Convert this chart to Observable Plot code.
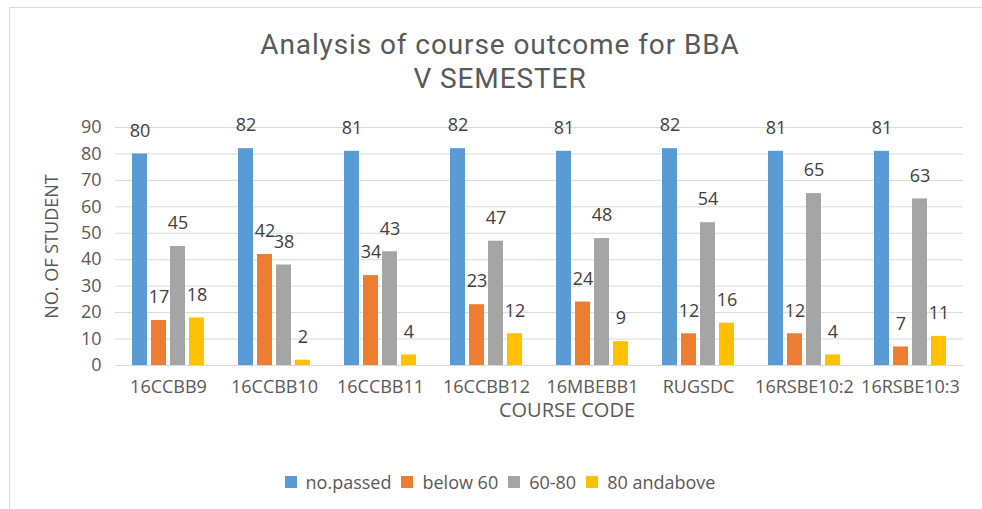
<!DOCTYPE html>
<html>
<head>
<meta charset="utf-8">
<script src="https://cdn.jsdelivr.net/npm/d3@7"></script>
<script src="https://cdn.jsdelivr.net/npm/@observablehq/plot@0.6"></script>
<style>
  html, body { margin: 0; padding: 0; background: #fff; }
  #wrap { position: relative; width: 982px; height: 509px; overflow: hidden; font-family: "Open Sans", sans-serif; color: #595959; }
  #frame { position: absolute; left: 9px; top: 7px; width: 990px; height: 520px; border: 1px solid #d9d9d9; box-sizing: border-box; }
  #title { position: absolute; left: 0; top: 28px; width: 1000px; text-align: center; font-family: Roboto, sans-serif; font-size: 28px; letter-spacing: 0.9px; color: #595959; }
  #title div { line-height: 33.5px; height: 33.5px; white-space: nowrap; }
  #chart { position: absolute; left: 0; top: 100px; }
  #xlabel { position: absolute; left: 367px; width: 400px; top: 397px; text-align: center; font-size: 20px; line-height: 26px; }
  #legend { position: absolute; left: 0; width: 1000px; top: 469px; display: flex; justify-content: center; align-items: center; font-size: 18px; line-height: 26px; }
  .item { display: flex; align-items: center; margin: 0 5px; }
  .sw { width: 12px; height: 12px; margin-right: 9px; }
</style>
</head>
<body>
<div id="wrap">
  <div id="frame"></div>
  <div id="title"><div>Analysis of course outcome for BBA</div><div>V SEMESTER</div></div>
  <div id="chart"></div>
  <div id="xlabel">COURSE CODE</div>
  <div id="legend"></div>
</div>
<script>
const courses = ["16CCBB9", "16CCBB10", "16CCBB11", "16CCBB12", "16MBEBB1", "RUGSDC", "16RSBE10:2", "16RSBE10:3"];
const series = ["no.passed", "below 60", "60-80", "80 andabove"];
const noPassed = [80, 82, 81, 82, 81, 82, 81, 81];
const below60 = [17, 42, 34, 23, 24, 12, 12, 7];
const range6080 = [45, 38, 43, 47, 48, 54, 65, 63];
const above80 = [18, 2, 4, 12, 9, 16, 4, 11];
const yTicks = [0, 10, 20, 30, 40, 50, 60, 70, 80, 90];
const colors = ["#5B9BD5", "#ED7D31", "#A5A5A5", "#FFC000"];

const seriesValues = [noPassed, below60, range6080, above80];
const data = [];
courses.forEach((c, i) => {
  series.forEach((s, j) => {
    data.push({course: c, series: s, value: seriesValues[j][i]});
  });
});

const chart = Plot.plot({
  width: 982,
  height: 340,
  marginLeft: 113,
  marginRight: 18,
  marginTop: 27,
  marginBottom: 75,
  style: {fontFamily: "Open Sans, sans-serif", fontSize: "18px", color: "#595959", background: "transparent"},
  fx: {domain: courses, padding: 0},
  x: {domain: series, axis: null, paddingInner: 0.23, paddingOuter: 0.84},
  y: {domain: [0, 90]},
  color: {domain: series, range: colors},
  marks: [
    Plot.gridY(yTicks, {stroke: "#d9d9d9", strokeOpacity: 1, strokeWidth: 1}),
    Plot.axisY(yTicks, {tickSize: 0, tickPadding: 14, label: "NO. OF STUDENT", labelArrow: "none", labelAnchor: "center", labelOffset: 70, fontSize: 18}),
    Plot.axisFx({anchor: "bottom", tickSize: 0, tickPadding: 15, label: null, fontSize: 18}),
    Plot.barY(data, {fx: "course", x: "series", y: "value", fill: "series"}),
    Plot.text(data, {fx: "course", x: "series", y: "value", text: d => String(d.value), dy: -23, fill: "#404040", fontSize: 18})
  ]
});
document.getElementById("chart").appendChild(chart);

const legend = document.getElementById("legend");
series.forEach((s, j) => {
  const item = document.createElement("div");
  item.className = "item";
  const sw = document.createElement("span");
  sw.className = "sw";
  sw.style.background = colors[j];
  const t = document.createElement("span");
  t.textContent = s;
  item.appendChild(sw);
  item.appendChild(t);
  legend.appendChild(item);
});
</script>
</body>
</html>
